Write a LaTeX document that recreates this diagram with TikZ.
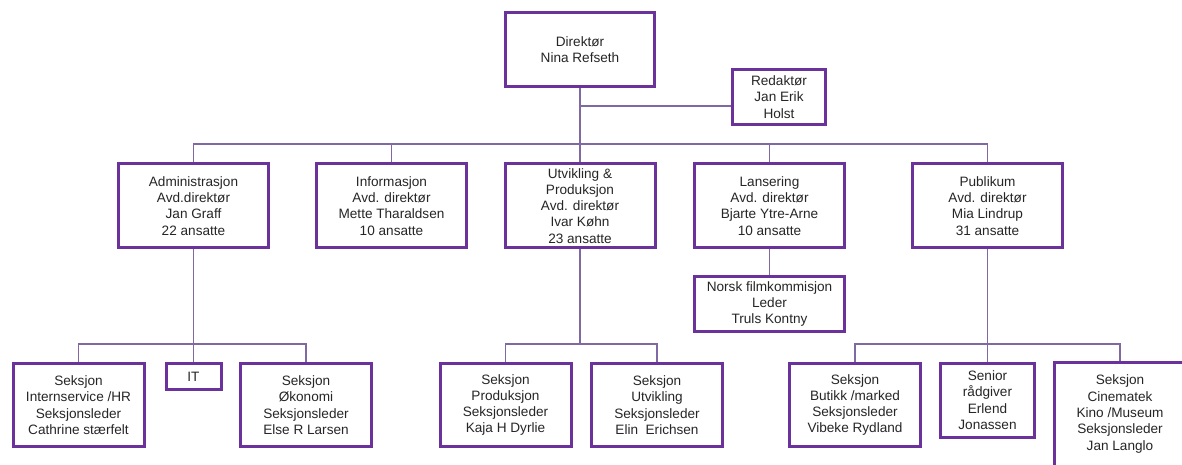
\documentclass[tikz,border=0pt]{standalone}
\usepackage{fontspec}
\setmainfont{Liberation Sans}
\usetikzlibrary{backgrounds}
\definecolor{boxc}{RGB}{108,50,156}
\definecolor{linec}{RGB}{128,104,162}
\begin{document}
\begin{tikzpicture}[x=1pt,y=-1pt,
  box/.style={draw=boxc, line width=3pt, fill=white, inner sep=0pt, align=center,
    font=\fontsize{13.6}{16.3}\selectfont, text=black!85},
  lvl/.style={box, minimum width=150pt, minimum height=84pt},
  sec/.style={box, minimum width=131pt, minimum height=83pt},
  conn/.style={draw=linec, line width=1.5pt}]
\useasboundingbox (0,0) rectangle (1182,464);
\clip (0,0) rectangle (1182,464);
% nodes
\node[box, minimum width=149pt, minimum height=74pt] (dir) at (580,49.5) {Direktør\\Nina Refseth};
\node[box, minimum width=93pt, minimum height=55pt] (red) at (779,97) {Redaktør\\Jan Erik\\Holst};
\node[lvl] (adm) at (193.5,205.75) {Administrasjon\\Avd.direktør\\Jan Graff\\22 ansatte};
\node[lvl] (inf) at (391.5,205.75) {Informasjon\\Avd. direktør\\Mette Tharaldsen\\10 ansatte};
\node[lvl] (utv) at (580,205.75) {Utvikling \&\\Produksjon\\Avd. direktør\\Ivar Køhn\\23 ansatte};
\node[lvl] (lan) at (769.5,205.75) {Lansering\\Avd. direktør\\Bjarte Ytre-Arne\\10 ansatte};
\node[lvl] (pub) at (987.5,205.75) {Publikum\\Avd. direktør\\Mia Lindrup\\31 ansatte};
\node[box, minimum width=150pt, minimum height=55pt] (nor) at (769.5,304) {Norsk filmkommisjon\\Leder\\Truls Kontny};
\node[sec] (ints) at (78.5,405) {Seksjon\\Internservice /HR\\Seksjonsleder\\Cathrine stærfelt};
\node[box, minimum width=55pt, minimum height=26pt] (it) at (193.5,376.5) {IT};
\node[sec] (oko) at (306,405) {Seksjon\\Økonomi\\Seksjonsleder\\Else R Larsen};
\node[sec] (prod) at (505.5,405) {Seksjon\\Produksjon\\Seksjonsleder\\Kaja H Dyrlie};
\node[sec] (utvs) at (657,405) {Seksjon\\Utvikling\\Seksjonsleder\\Elin\ \ Erichsen};
\node[sec] (but) at (855,405) {Seksjon\\Butikk /marked\\Seksjonsleder\\Vibeke Rydland};
\node[box, minimum width=94pt, minimum height=74pt] (sen) at (987.5,400) {Senior\\rådgiver\\Erlend\\Jonassen};
\node[box, minimum width=131pt, minimum height=104pt] (cin) at (1120,414) {Seksjon\\Cinematek\\Kino /Museum\\Seksjonsleder\\Jan Langlo};
% connectors
\coordinate (rb) at (0,106);
\coordinate (tb) at (0,144);
\coordinate (bb) at (0,344);
\begin{pgfonlayer}{background}
\fill[white] (0,0) rectangle (1182,464);
\draw[conn] (dir.south) -- (utv.north);
\draw[conn] (dir.south |- rb) -- (red.west |- rb);
\draw[conn] (adm.north) -- (adm.north |- tb) -- (pub.north |- tb) -- (pub.north);
\draw[conn] (inf.north) -- (inf.north |- tb);
\draw[conn] (lan.north) -- (lan.north |- tb);
\draw[conn] (adm.south) -- (it.north);
\draw[conn] (ints.north) -- (ints.north |- bb) -- (oko.north |- bb) -- (oko.north);
\draw[conn] (utv.south) -- (utv.south |- bb);
\draw[conn] (prod.north) -- (prod.north |- bb) -- (utvs.north |- bb) -- (utvs.north);
\draw[conn] (lan.south) -- (nor.north);
\draw[conn] (pub.south) -- (sen.north);
\draw[conn] (but.north) -- (but.north |- bb) -- (cin.north |- bb) -- (cin.north);
\end{pgfonlayer}
\end{tikzpicture}
\end{document}
